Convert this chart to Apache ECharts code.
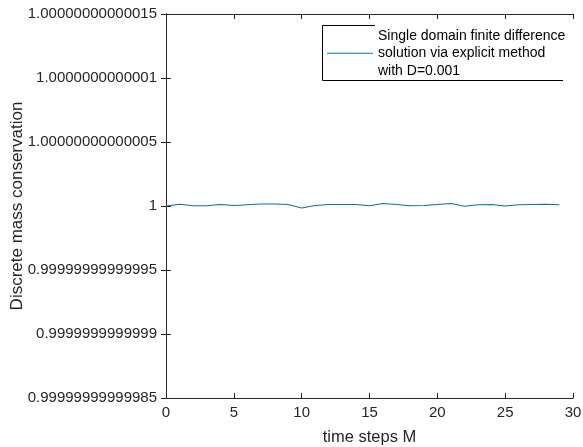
<!DOCTYPE html>
<html>
<head>
<meta charset="utf-8">
<script src="https://cdn.jsdelivr.net/npm/echarts@6/dist/echarts.min.js"></script>
<style>
  html, body { margin: 0; padding: 0; background: #fff; }
  #chart { width: 583px; height: 447px; }
</style>
</head>
<body>
<div id="chart"></div>
<script>
// time step index M
const timeSteps = [0, 1, 2, 3, 4, 5, 6, 7, 8, 9, 10, 11, 12, 13, 14, 15, 16, 17, 18, 19, 20, 21, 22, 23, 24, 25, 26, 27, 28, 29];

// discrete total mass relative to the initial mass at each step
const massRatio = [
  1, 1.0000000000000013, 1.0000000000000002, 1.0000000000000002, 1.000000000000001,
  1.0000000000000004, 1.0000000000000009, 1.0000000000000016, 1.0000000000000016, 1.000000000000001,
  0.9999999999999984, 1.0000000000000004, 1.000000000000001, 1.000000000000001, 1.000000000000001,
  1.0000000000000002, 1.000000000000002, 1.000000000000001, 1.0000000000000002, 1.0000000000000004,
  1.000000000000001, 1.000000000000002, 0.9999999999999998, 1.0000000000000009, 1.000000000000001,
  1, 1.0000000000000009, 1.000000000000001, 1.0000000000000013, 1.0000000000000009
];

// y tick labels, bottom to top
const yTickLabels = [
  '0.99999999999985', '0.9999999999999', '0.99999999999995', '1',
  '1.00000000000005', '1.0000000000001', '1.00000000000015'
];
const yMin = 0.99999999999985;
const yMax = 1.00000000000015;
const yStep = 5e-14;

const xMin = 0, xMax = 30, xStep = 5;

const seriesName = 'Single domain finite difference\nsolution via explicit method\nwith D=0.001';

const ink = '#262626';
const font = 'Liberation Sans, Arial, Helvetica, sans-serif';

const chart = echarts.init(document.getElementById('chart'), null, { renderer: 'canvas' });

const yLabel = v => {
  const k = Math.round((v - yMin) / yStep);
  return yTickLabels[k] !== undefined ? yTickLabels[k] : '';
};

const frameAxis = {
  axisLine: { show: true, lineStyle: { color: ink, width: 1 } },
  axisTick: { show: true, inside: true, length: 5, lineStyle: { color: ink, width: 1 } },
  splitLine: { show: false }
};

chart.setOption({
  animation: false,
  backgroundColor: '#ffffff',
  grid: { left: 166, right: 10, top: 14, bottom: 49, containLabel: false, outerBoundsMode: 'none' },
  xAxis: [
    Object.assign({
      type: 'value', position: 'bottom', min: xMin, max: xMax, interval: xStep,
      name: 'time steps M', nameLocation: 'middle', nameGap: 39, nameMoveOverlap: false,
      nameTextStyle: { color: ink, fontSize: 16.5, fontFamily: font, verticalAlign: 'middle' },
      axisLabel: { color: ink, fontSize: 15, fontFamily: font, margin: 7 }
    }, frameAxis),
    Object.assign({
      type: 'value', position: 'top', min: xMin, max: xMax, interval: xStep,
      axisLabel: { show: false }
    }, frameAxis)
  ],
  yAxis: [
    Object.assign({
      type: 'value', position: 'left', min: yMin, max: yMax, interval: yStep, scale: true,
      name: 'Discrete mass conservation', nameLocation: 'middle', nameGap: 149, nameRotate: 90,
      nameMoveOverlap: false,
      nameTextStyle: { color: ink, fontSize: 17, fontFamily: font, verticalAlign: 'middle' },
      axisLabel: { color: ink, fontSize: 15, fontFamily: font, margin: 9, formatter: yLabel }
    }, frameAxis),
    Object.assign({
      type: 'value', position: 'right', min: yMin, max: yMax, interval: yStep, scale: true,
      axisLabel: { show: false }
    }, frameAxis)
  ],
  legend: {
    show: true,
    left: 327,
    top: 27,
    padding: 0,
    orient: 'vertical',
    itemWidth: 46,
    itemHeight: 1.2,
    itemGap: 0,
    textStyle: { color: '#000', fontSize: 14, fontFamily: font, lineHeight: 17.5 },
    data: [{ name: seriesName, icon: 'rect' }]
  },
  graphic: [
    {
      type: 'polyline',
      silent: true,
      shape: { points: [[375, 25.5], [322.5, 25.5], [322.5, 80.5], [563, 80.5]] },
      style: { fill: null, stroke: '#000', lineWidth: 1 }
    }
  ],
  series: [
    {
      name: seriesName,
      type: 'line',
      xAxisIndex: 0,
      yAxisIndex: 0,
      data: timeSteps.map((t, i) => [t, massRatio[i]]),
      symbol: 'none',
      smooth: false,
      lineStyle: { color: '#0072BD', width: 1.2 },
      itemStyle: { color: '#0072BD' }
    }
  ]
});
</script>
</body>
</html>
